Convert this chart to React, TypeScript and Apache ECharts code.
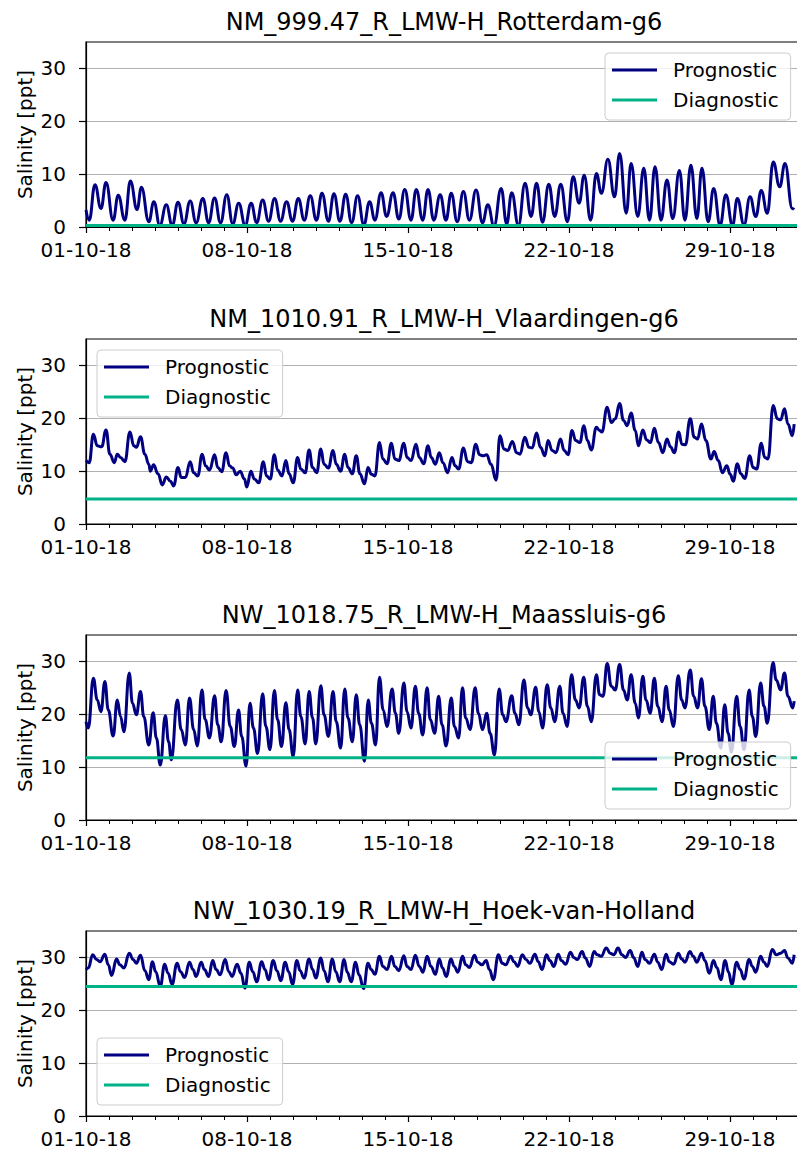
import React, { useEffect, useRef } from "react";
import * as echarts from "echarts";

// ---------- DATA (x = days since 01-10-2018 00:00, y = salinity in ppt) ----------
const panelTitles = [
  "NM_999.47_R_LMW-H_Rotterdam-g6",
  "NM_1010.91_R_LMW-H_Vlaardingen-g6",
  "NW_1018.75_R_LMW-H_Maassluis-g6",
  "NW_1030.19_R_LMW-H_Hoek-van-Holland",
];
const seriesNames = ["Prognostic", "Diagnostic"];
const xTickLabels = ["01-10-18", "08-10-18", "15-10-18", "22-10-18", "29-10-18"];
const yTickValues = [0, 10, 20, 30];
const diagnosticLevels = [0.3, 4.75, 11.8, 24.5];

const rotterdam: [number, number][] = [
  [0, 3.2], [0.14, 1.3], [0.39, 8.0], [0.65, 3.5], [0.87, 8.4], [1.18, 1.3], [1.4, 6.0], [1.69, 1.3],
  [1.93, 8.7], [2.22, 3.3], [2.41, 7.5], [2.73, 1.0], [2.95, 4.8], [3.21, 0.3], [3.49, 4.2], [3.75, 0.3],
  [4.0, 4.7], [4.26, 0.6], [4.53, 4.9], [4.79, 0.8], [5.08, 5.4], [5.33, 0.8], [5.59, 5.5], [5.85, 0.8],
  [6.12, 6.1], [6.38, 0.6], [6.64, 4.5], [6.92, 0.3], [7.18, 4.5], [7.42, 0.8], [7.68, 5.1], [7.94, 1.1],
  [8.2, 5.4], [8.46, 1.1], [8.72, 4.8], [8.98, 1.1], [9.23, 5.4], [9.49, 1.3], [9.75, 5.9], [10.02, 1.3],
  [10.26, 6.4], [10.54, 1.1], [10.78, 6.3], [11.04, 1.1], [11.29, 6.2], [11.55, 0.8], [11.81, 5.9], [12.08, 0.4],
  [12.33, 4.8], [12.56, 1.3], [12.83, 6.5], [13.07, 2.0], [13.35, 6.5], [13.6, 1.5], [13.86, 7.1], [14.13, 1.3],
  [14.36, 7.1], [14.64, 1.3], [14.87, 7.1], [15.12, 1.3], [15.4, 6.1], [15.65, 1.3], [15.88, 6.4], [16.14, 1.0],
  [16.41, 6.7], [16.67, 1.3], [16.96, 7.0], [17.24, 0.8], [17.47, 4.2], [17.74, 0.2], [18.05, 7.3], [18.29, 0.6],
  [18.51, 6.5], [18.8, 0.3], [19.09, 8.3], [19.35, 2.0], [19.59, 8.3], [19.85, 0.9], [20.12, 8.1], [20.38, 2.0],
  [20.64, 8.1], [20.93, 1.0], [21.18, 9.5], [21.44, 4.5], [21.66, 9.8], [21.94, 1.3], [22.19, 10.1], [22.41, 6.4],
  [22.69, 12.8], [22.98, 5.7], [23.2, 13.9], [23.49, 2.6], [23.7, 12.0], [23.99, 2.0], [24.25, 11.1], [24.5, 1.3],
  [24.74, 11.4], [25.0, 1.3], [25.26, 8.9], [25.51, 1.6], [25.8, 10.7], [26.04, 1.3], [26.3, 11.7], [26.56, 1.6],
  [26.78, 11.1], [27.05, 1.0], [27.29, 7.3], [27.57, 0.3], [27.82, 6.1], [28.11, 0.3], [28.32, 5.4], [28.61, 0.4],
  [28.87, 5.7], [29.12, 2.0], [29.36, 6.9], [29.62, 2.6], [29.88, 12.3], [30.16, 7.6], [30.39, 12.0], [30.71, 3.5],
  [30.79, 3.3],
];

const vlaardingen: [number, number][] = [
  [0, 12.0], [0.14, 11.6], [0.32, 17.0], [0.49, 14.8], [0.68, 14.6], [0.87, 17.8], [1.04, 13.2], [1.23, 11.6],
  [1.36, 13.2], [1.5, 12.6], [1.69, 11.8], [1.91, 17.4], [2.08, 14.8], [2.19, 14.5], [2.37, 16.5], [2.56, 13.2],
  [2.73, 11.3], [2.8, 10.0], [2.94, 11.2], [3.13, 9.5], [3.32, 7.4], [3.49, 8.9], [3.67, 8.1], [3.81, 7.2],
  [4.0, 10.7], [4.14, 8.8], [4.32, 8.8], [4.53, 11.8], [4.68, 9.7], [4.86, 9.1], [5.05, 13.2], [5.2, 11.0],
  [5.37, 10.2], [5.59, 13.1], [5.73, 10.7], [5.9, 9.9], [6.09, 13.5], [6.24, 11.0], [6.38, 10.6], [6.53, 9.3],
  [6.7, 10.0], [6.89, 8.5], [6.99, 7.0], [7.17, 10.0], [7.32, 8.5], [7.51, 7.8], [7.71, 11.8], [7.85, 9.1],
  [8.01, 8.5], [8.19, 13.1], [8.33, 10.2], [8.52, 9.1], [8.69, 12.0], [8.83, 9.5], [9.01, 7.8], [9.2, 12.6],
  [9.34, 10.4], [9.53, 9.7], [9.7, 14.0], [9.85, 10.7], [10.03, 9.7], [10.21, 14.2], [10.35, 11.3], [10.54, 10.6],
  [10.74, 13.9], [10.88, 11.3], [11.07, 10.0], [11.25, 13.2], [11.39, 10.7], [11.58, 9.5], [11.75, 12.9], [11.91, 9.5],
  [12.11, 7.6], [12.26, 10.7], [12.41, 9.4], [12.56, 9.1], [12.76, 15.4], [12.91, 12.3], [13.09, 11.4], [13.28, 15.3],
  [13.43, 12.3], [13.6, 12.0], [13.82, 15.3], [13.96, 12.6], [14.13, 12.0], [14.35, 15.1], [14.49, 12.6], [14.68, 11.4],
  [14.87, 14.8], [15.01, 12.6], [15.19, 11.3], [15.36, 13.5], [15.52, 11.6], [15.72, 9.7], [15.91, 12.6], [16.05, 11.0],
  [16.2, 10.4], [16.41, 14.4], [16.59, 11.8], [16.75, 11.6], [16.95, 15.1], [17.11, 13.1], [17.28, 12.9], [17.42, 13.1],
  [17.61, 11.3], [17.83, 8.3], [18.0, 16.7], [18.17, 14.2], [18.33, 13.9], [18.54, 15.6], [18.72, 13.5], [18.87, 13.2],
  [19.08, 16.4], [19.26, 14.5], [19.4, 14.4], [19.59, 17.2], [19.76, 14.5], [19.95, 12.9], [20.09, 15.8], [20.27, 13.9],
  [20.43, 13.5], [20.63, 16.1], [20.79, 13.9], [20.96, 13.1], [21.13, 17.7], [21.29, 15.8], [21.47, 15.4], [21.65, 18.6],
  [21.8, 15.8], [21.97, 14.0], [22.19, 18.3], [22.33, 17.7], [22.43, 17.4], [22.66, 22.1], [22.84, 19.2], [23.01, 19.9],
  [23.2, 22.8], [23.37, 19.6], [23.53, 18.6], [23.7, 21.0], [23.88, 17.7], [24.02, 14.8], [24.21, 17.8], [24.38, 15.9],
  [24.54, 15.4], [24.71, 18.1], [24.89, 15.4], [25.08, 13.5], [25.26, 16.1], [25.41, 14.6], [25.58, 13.5], [25.77, 17.4],
  [25.91, 15.1], [26.06, 15.0], [26.27, 19.9], [26.45, 16.4], [26.59, 16.1], [26.76, 18.9], [26.95, 15.8], [27.17, 12.3],
  [27.31, 13.7], [27.49, 12.0], [27.67, 9.7], [27.86, 11.0], [28.01, 9.4], [28.14, 8.1], [28.32, 11.4], [28.47, 9.5],
  [28.64, 8.6], [28.86, 12.9], [29.0, 10.7], [29.16, 10.4], [29.36, 15.3], [29.51, 12.6], [29.65, 12.3], [29.88, 22.4],
  [30.06, 19.9], [30.2, 19.7], [30.37, 21.8], [30.52, 18.9], [30.71, 16.7], [30.79, 18.9],
];

const maassluis: [number, number][] = [
  [0, 18.6], [0.1, 17.4], [0.32, 26.8], [0.49, 22.7], [0.65, 20.5], [0.82, 26.2], [0.97, 20.8], [1.18, 15.9],
  [1.36, 22.7], [1.5, 19.6], [1.65, 16.7], [1.88, 27.8], [2.02, 22.1], [2.19, 19.9], [2.37, 24.3], [2.51, 19.6],
  [2.73, 14.2], [2.92, 20.3], [3.06, 15.5], [3.23, 10.4], [3.45, 19.7], [3.59, 14.8], [3.71, 11.4], [3.97, 22.7],
  [4.14, 17.1], [4.32, 14.2], [4.5, 23.1], [4.68, 17.1], [4.84, 14.0], [5.04, 24.6], [5.18, 19.0], [5.37, 15.5],
  [5.59, 23.5], [5.73, 18.0], [5.88, 14.8], [6.09, 24.5], [6.27, 17.7], [6.45, 13.9], [6.63, 20.8], [6.77, 15.8],
  [6.96, 10.2], [7.13, 22.1], [7.28, 17.4], [7.46, 12.6], [7.68, 23.9], [7.82, 17.7], [8.0, 13.3], [8.19, 24.5],
  [8.33, 19.0], [8.5, 13.9], [8.69, 22.2], [8.83, 17.1], [9.01, 12.0], [9.2, 24.6], [9.34, 19.6], [9.53, 14.4],
  [9.7, 24.3], [9.85, 19.3], [9.99, 14.4], [10.21, 25.4], [10.35, 19.9], [10.54, 15.8], [10.74, 24.3], [10.88, 18.6],
  [11.07, 13.6], [11.25, 24.8], [11.39, 19.3], [11.58, 14.8], [11.75, 23.7], [11.9, 18.0], [12.11, 11.1], [12.27, 22.7],
  [12.41, 18.3], [12.59, 14.2], [12.76, 27.0], [12.92, 20.8], [13.09, 17.7], [13.31, 24.8], [13.45, 20.2], [13.6, 16.4],
  [13.82, 25.9], [13.96, 20.5], [14.13, 17.4], [14.32, 25.3], [14.46, 20.2], [14.64, 16.1], [14.83, 25.0], [14.97, 19.0],
  [15.16, 16.4], [15.33, 23.4], [15.48, 18.0], [15.66, 14.0], [15.88, 23.1], [16.02, 17.7], [16.2, 15.5], [16.37, 25.0],
  [16.51, 19.3], [16.7, 17.1], [16.92, 25.0], [17.06, 20.2], [17.24, 17.1], [17.42, 20.2], [17.57, 16.4], [17.76, 12.3],
  [17.96, 24.8], [18.12, 19.9], [18.26, 18.6], [18.51, 23.5], [18.65, 20.2], [18.82, 18.0], [19.04, 26.5], [19.2, 21.2],
  [19.34, 19.9], [19.55, 25.1], [19.69, 20.5], [19.85, 17.4], [20.05, 25.6], [20.21, 21.2], [20.38, 18.6], [20.6, 25.3],
  [20.74, 20.2], [20.92, 17.7], [21.11, 27.5], [21.28, 22.7], [21.44, 21.2], [21.64, 27.0], [21.8, 21.5], [21.97, 18.6],
  [22.19, 27.5], [22.33, 23.7], [22.48, 23.4], [22.66, 29.6], [22.84, 25.3], [23.01, 24.6], [23.2, 29.4], [23.37, 24.6],
  [23.53, 22.7], [23.7, 27.5], [23.88, 22.1], [24.02, 19.3], [24.21, 27.2], [24.35, 22.7], [24.53, 20.2], [24.71, 26.8],
  [24.86, 21.5], [25.05, 18.6], [25.22, 25.3], [25.36, 20.8], [25.54, 17.7], [25.75, 27.3], [25.9, 22.7], [26.04, 21.2],
  [26.27, 28.4], [26.42, 23.4], [26.59, 21.2], [26.76, 26.7], [26.91, 21.5], [27.1, 17.1], [27.27, 23.4], [27.41, 18.3],
  [27.6, 13.6], [27.77, 21.8], [27.92, 16.4], [28.06, 12.8], [28.29, 23.4], [28.44, 17.7], [28.61, 13.3], [28.83, 24.6],
  [28.97, 19.6], [29.12, 15.8], [29.33, 25.9], [29.48, 21.5], [29.62, 18.3], [29.87, 29.8], [30.01, 26.5], [30.2, 24.6],
  [30.37, 27.8], [30.52, 23.4], [30.73, 21.2], [30.79, 22.5],
];

const hoekVanHolland: [number, number][] = [
  [0, 27.7], [0.1, 28.0], [0.29, 30.5], [0.46, 29.6], [0.61, 29.2], [0.82, 30.6], [0.97, 28.6], [1.11, 26.6],
  [1.33, 29.7], [1.47, 28.6], [1.65, 28.0], [1.88, 30.8], [2.05, 29.6], [2.19, 28.9], [2.37, 30.4], [2.56, 27.5],
  [2.73, 25.8], [2.89, 29.2], [3.03, 27.3], [3.23, 24.5], [3.42, 28.7], [3.57, 27.0], [3.74, 24.9], [3.96, 28.9],
  [4.11, 27.3], [4.29, 26.2], [4.5, 29.1], [4.65, 27.7], [4.79, 26.4], [5.01, 29.1], [5.15, 27.7], [5.33, 26.4],
  [5.51, 29.4], [5.66, 27.7], [5.83, 26.7], [6.05, 29.6], [6.21, 27.3], [6.35, 26.4], [6.57, 28.7], [6.74, 27.0],
  [6.91, 24.2], [7.1, 29.1], [7.25, 27.3], [7.42, 25.4], [7.64, 29.2], [7.78, 27.7], [7.94, 25.8], [8.14, 29.4],
  [8.3, 27.5], [8.47, 25.6], [8.66, 29.1], [8.81, 27.3], [8.98, 24.9], [9.17, 29.4], [9.31, 27.5], [9.48, 26.1],
  [9.7, 29.7], [9.85, 27.7], [9.99, 26.1], [10.21, 29.9], [10.35, 27.5], [10.52, 25.4], [10.71, 29.7], [10.86, 27.3],
  [11.03, 25.4], [11.22, 29.6], [11.36, 27.2], [11.53, 25.4], [11.72, 29.1], [11.87, 26.7], [12.07, 24.1], [12.26, 28.9],
  [12.4, 27.7], [12.56, 26.8], [12.76, 30.2], [12.91, 28.3], [13.09, 27.7], [13.28, 30.2], [13.43, 28.3], [13.6, 27.5],
  [13.82, 30.3], [13.96, 28.3], [14.13, 27.7], [14.32, 30.4], [14.49, 28.3], [14.65, 27.2], [14.83, 30.2], [15.0, 28.3],
  [15.19, 26.8], [15.36, 29.7], [15.5, 28.0], [15.66, 26.4], [15.87, 29.7], [16.01, 28.3], [16.17, 27.2], [16.37, 30.2],
  [16.51, 28.6], [16.67, 28.1], [16.89, 30.4], [17.03, 29.1], [17.21, 28.6], [17.4, 29.4], [17.54, 27.7], [17.71, 25.8],
  [17.93, 30.5], [18.1, 28.9], [18.25, 28.6], [18.46, 30.2], [18.61, 29.2], [18.77, 28.3], [18.97, 30.5], [19.13, 29.6],
  [19.3, 28.9], [19.52, 30.6], [19.66, 29.2], [19.83, 27.7], [20.02, 30.5], [20.17, 29.4], [20.34, 28.3], [20.53, 30.6],
  [20.67, 29.4], [20.86, 28.7], [21.06, 31.0], [21.21, 30.0], [21.36, 29.6], [21.57, 31.1], [21.71, 29.9], [21.9, 28.3],
  [22.09, 31.1], [22.23, 30.5], [22.4, 30.2], [22.62, 31.8], [22.79, 30.8], [22.95, 30.5], [23.13, 31.8], [23.3, 30.5],
  [23.46, 30.0], [23.66, 31.3], [23.81, 30.0], [23.99, 28.3], [24.17, 31.0], [24.31, 29.6], [24.5, 28.9], [24.71, 30.6],
  [24.86, 29.1], [25.03, 27.7], [25.22, 30.6], [25.36, 29.2], [25.55, 28.7], [25.75, 30.8], [25.9, 29.7], [26.04, 29.1],
  [26.26, 31.1], [26.4, 30.2], [26.56, 29.1], [26.76, 30.8], [26.91, 29.4], [27.1, 27.0], [27.28, 29.4], [27.43, 28.1],
  [27.6, 25.8], [27.79, 29.4], [27.93, 27.3], [28.08, 24.9], [28.29, 29.1], [28.44, 27.7], [28.61, 25.9], [28.83, 29.6],
  [28.97, 28.3], [29.12, 27.2], [29.33, 30.2], [29.48, 29.1], [29.62, 28.3], [29.84, 31.5], [30.01, 30.5], [30.2, 30.8],
  [30.37, 31.3], [30.52, 29.9], [30.71, 28.9], [30.79, 30.5],
];

const prognosticSeries = [rotterdam, vlaardingen, maassluis, hoekVanHolland];

// ---------- LAYOUT / STYLE ----------
const FONT = "DejaVu Sans";
const NAVY = "#000080";
const TEAL = "#00b386";
const X_MIN = 0;
const X_MAX = 35;
const CHART_W = 894; // wider than the page: the right part of the axes is cut off as in the reference
const gridTops = [42, 339, 635, 931];
const GRID_H = 185;
const legendPos = [
  { left: 605, top: 53 },
  { left: 97, top: 350 },
  { left: 605, top: 742 },
  { left: 97, top: 1038 },
];

function buildOption(): any {
  const grid: any[] = [];
  const xAxis: any[] = [];
  const yAxis: any[] = [];
  const series: any[] = [];
  const legend: any[] = [];
  const graphic: any[] = [];

  panelTitles.forEach((title, i) => {
    grid.push({
      left: 86,
      right: 0,
      top: gridTops[i],
      height: GRID_H,
      show: true,
      borderColor: "#000",
      borderWidth: 1.2,
      backgroundColor: "transparent",
      containLabel: false,
    });
    xAxis.push({
      gridIndex: i,
      type: "value",
      position: "bottom",
      min: X_MIN,
      max: X_MAX,
      interval: 7,
      axisLine: { show: true, onZero: false, lineStyle: { color: "#000", width: 1.2 } },
      axisTick: { show: true, length: 6, lineStyle: { color: "#000", width: 1.2 } },
      minorTick: { show: true, splitNumber: 7, length: 4, lineStyle: { color: "#000", width: 1 } },
      axisLabel: {
        fontSize: 20,
        fontFamily: FONT,
        color: "#000",
        margin: 13,
        formatter: (v: number) => xTickLabels[Math.round(v / 7)] ?? "",
      },
      splitLine: { show: false },
      minorSplitLine: { show: false },
    });
    yAxis.push({
      gridIndex: i,
      type: "value",
      min: 0,
      max: 35,
      interval: 10,
      name: "Salinity [ppt]",
      nameLocation: "middle",
      nameRotate: 90,
      nameGap: 51,
      nameMoveOverlap: false,
      nameTextStyle: { fontSize: 20, fontFamily: FONT, color: "#000" },
      axisLine: { show: true, onZero: false, lineStyle: { color: "#000", width: 1.2 } },
      axisTick: { show: true, length: 7, customValues: yTickValues, lineStyle: { color: "#000", width: 1.2 } },
      axisLabel: {
        fontSize: 20,
        fontFamily: FONT,
        color: "#000",
        margin: 20,
        customValues: yTickValues,
      },
      splitLine: { show: true, lineStyle: { color: "#b0b0b0", width: 1.2 } },
    });
    series.push({
      type: "line",
      name: seriesNames[0],
      xAxisIndex: i,
      yAxisIndex: i,
      data: prognosticSeries[i],
      symbol: "none",
      showSymbol: false,
      smooth: 0.45,
      smoothMonotone: "x",
      color: NAVY,
      itemStyle: { color: NAVY },
      lineStyle: { color: NAVY, width: 3 },
      clip: true,
      z: 2,
    });
    series.push({
      type: "line",
      name: seriesNames[1],
      xAxisIndex: i,
      yAxisIndex: i,
      data: [
        [X_MIN, diagnosticLevels[i]],
        [X_MAX, diagnosticLevels[i]],
      ],
      symbol: "none",
      showSymbol: false,
      color: TEAL,
      itemStyle: { color: TEAL },
      lineStyle: { color: TEAL, width: 3 },
      clip: true,
      z: 3,
    });
    legend.push({
      orient: "vertical",
      left: legendPos[i].left,
      top: legendPos[i].top,
      padding: [7, 12, 10, 7],
      itemWidth: 45,
      itemHeight: 3,
      itemGap: 10,
      icon: "rect",
      selectedMode: false,
      backgroundColor: "rgba(255,255,255,0.8)",
      borderColor: "#cccccc",
      borderWidth: 1,
      borderRadius: 4,
      data: seriesNames,
      formatter: (n: string) => "{t|" + n + "}",
      textStyle: {
        rich: {
          t: { fontSize: 20, fontFamily: FONT, color: "#000", padding: [0, 0, 0, 11], lineHeight: 20 },
        },
      },
      z: 10,
    });
    graphic.push({
      type: "text",
      x: 444,
      y: gridTops[i] - 20,
      style: {
        text: title,
        fontSize: 24,
        fontFamily: FONT,
        fill: "#000",
        align: "center",
        verticalAlign: "middle",
      },
    });
  });

  return {
    animation: false,
    backgroundColor: "#fff",
    textStyle: { fontFamily: FONT },
    grid,
    xAxis,
    yAxis,
    series,
    legend,
    graphic,
  };
}

export default function App() {
  const ref = useRef<HTMLDivElement>(null);
  useEffect(() => {
    if (!ref.current) return;
    const chart = echarts.init(ref.current, undefined, { renderer: "svg" });
    chart.setOption(buildOption());
    return () => chart.dispose();
  }, []);
  return (
    <div
      style={{
        position: "absolute",
        left: 0,
        top: 0,
        width: 797,
        height: 1151,
        overflow: "hidden",
        background: "#fff",
      }}
    >
      <div ref={ref} style={{ width: CHART_W, height: 1151 }} />
    </div>
  );
}
